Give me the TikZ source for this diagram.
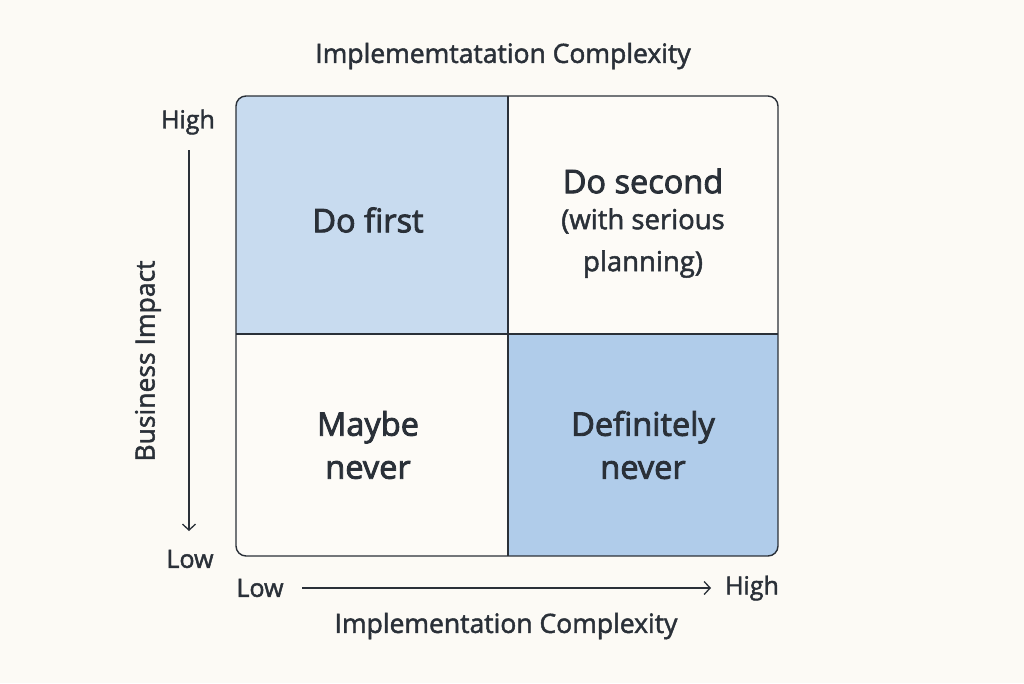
\documentclass[tikz,border=0pt]{standalone}
\usepackage{fontspec}
\setmainfont{Open Sans}
\newfontfamily\medfont[FakeBold=1.8]{Open Sans}
\newfontfamily\semfont[FakeBold=2.6]{Open Sans}
\begin{document}
\begin{tikzpicture}[x=1pt,y=-1pt,
  txt/.style={text=ink,font=\medfont\fontsize{25}{30}\selectfont,inner sep=0pt},
  ttl/.style={text=ink,font=\medfont\fontsize{26.5}{30}\selectfont,inner sep=0pt},
  big/.style={text=ink,font=\semfont\fontsize{32.5}{43}\selectfont,align=center,inner sep=0pt},
  sub/.style={text=ink,font=\medfont\fontsize{27.5}{42}\selectfont,align=center,inner sep=0pt},
  frame/.style={draw=ink,line width=1.4pt},
  axis/.style={draw=ink,line width=1.3pt,-{Straight Barb[length=6pt,width=13pt,line width=1.3pt]}}]
\usetikzlibrary{arrows.meta}
\definecolor{bg}{HTML}{FCFAF5}
\definecolor{ink}{HTML}{2A3038}
\definecolor{blueA}{HTML}{C8DBEF}
\definecolor{blueB}{HTML}{B0CCEA}
\definecolor{cellw}{HTML}{FDFBF7}
\fill[bg] (0,0) rectangle (1024,683);
\useasboundingbox (0,0) rectangle (1024,683);
% cells
\fill[cellw,rounded corners=10pt] (236,96) rectangle (778,556);
\begin{scope}
\clip[rounded corners=10pt] (236,96) rectangle (778,556);
\fill[blueA] (236,96) rectangle (508,334);
\fill[blueB] (508,334) rectangle (778,556);
\end{scope}
\draw[frame,rounded corners=10pt] (236,96) rectangle (778,556);
\draw[frame] (508,96) -- (508,556);
\draw[frame] (236,334) -- (778,334);
% texts
\node[ttl] (title) at (503,56) {Implememtatation Complexity};
\node[big] (q1) at (368,220) {Do first};
\node[big] (q2a) at (643,181) {Do second};
\node[sub] (q2b) at (643,243) {(with serious\\planning)};
\node[big] (q3) at (368,445) {Maybe\\never};
\node[big] (q4) at (643,445) {Definitely\\never};
% axes
\node[txt] (yhigh) at (188,122) {High};
\node[txt] (ylow) at (190,559) {Low};
\node[txt] (xlow) at (260,588) {Low};
\node[txt] (xhigh) at (752,588) {High};
\coordinate (ya) at (189,150);
\coordinate (yb) at (189,531);
\coordinate (xa) at (302,588);
\coordinate (xb) at (711,588);
\draw[axis] (ya) -- (yb);
\draw[axis] (xa) -- (xb);
\node[ttl,rotate=90] (ylab) at (148,361) {Business Impact};
\node[ttl] (xlab) at (506,626) {Implementation Complexity};
\end{tikzpicture}
\end{document}
